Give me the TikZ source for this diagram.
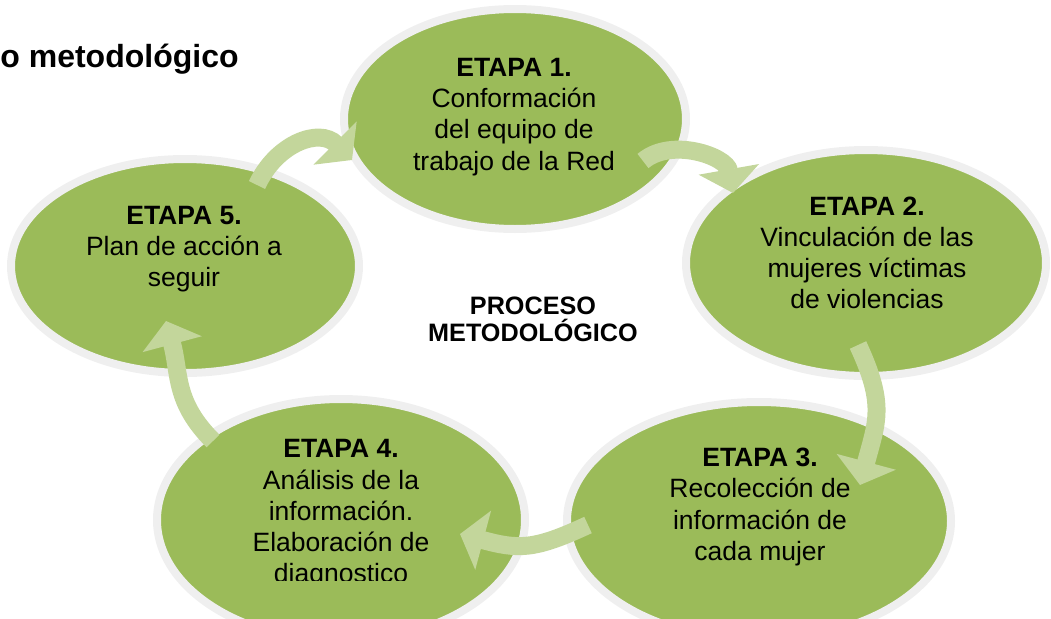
\documentclass[tikz,border=0pt]{standalone}
\usepackage{fontspec}
\setmainfont{Liberation Sans}
\usepackage{tikz}
\usetikzlibrary{arrows.meta,shapes.geometric}
\definecolor{etapa}{HTML}{9BBB59}
\definecolor{aro}{HTML}{EFEFEF}
\definecolor{flecha}{HTML}{C3D69B}
\tikzset{stage/.style={ellipse,draw=aro,line width=4pt,fill=etapa,inner sep=0pt},
  stagetxt/.style={align=center,inner sep=0pt,font=\fontsize{13.25}{15.6}\selectfont},
  flow/.style={draw=flecha,line width=9pt,-{Triangle[length=12pt,width=30pt]}}}

\begin{document}
\begin{tikzpicture}[x=0.5pt,y=0.5pt]
\useasboundingbox (0,0) rectangle (1051,618);
\clip (0,0) rectangle (1051,618);
\node[anchor=base west,inner sep=0pt,font=\fontsize{16}{19}\selectfont\bfseries] (titulo) at (0,551) {o metodológico};
% the five stages
\node[stage,minimum width=171pt,minimum height=110pt] (e1) at (515,499) {};
\node[stage,minimum width=180pt,minimum height=113pt] (e2) at (866,355) {};
\node[stage,minimum width=192pt,minimum height=119pt] (e3) at (759,97) {};
\node[stage,minimum width=184pt,minimum height=121pt] (e4) at (341,98) {};
\node[stage,minimum width=174pt,minimum height=107pt] (e5) at (185,352) {};
% curved arrows
\coordinate (a12s) at (643,457); \coordinate (a12e) at (733,425);
\coordinate (a23s) at (858,273); \coordinate (a23e) at (860,133);
\coordinate (a34s) at (588,93);  \coordinate (a34e) at (460,84);
\coordinate (a45s) at (213,177); \coordinate (a45e) at (166,297);
\coordinate (a51s) at (257,433); \coordinate (a51e) at (352,458);
\draw[flow] (a12s) to[out=40,in=100] (a12e);
\draw[flow] (a23s) to[out=-65,in=75,looseness=1.2] (a23e);
\draw[flow] (a34s) to[out=205,in=-15,looseness=1.2] (a34e);
\draw[flow] (a45s) to[out=135,in=-75,looseness=1.1] (a45e);
\draw[flow] (a51s) to[out=65,in=135,looseness=1.2] (a51e);
% texts
\node[stagetxt] (t1) at (514,501) {\textbf{ETAPA 1.}\\Conformación\\del equipo de\\trabajo de la Red};
\node[stagetxt] (t2) at (867,365) {\textbf{ETAPA 2.}\\Vinculación de las\\mujeres víctimas\\de violencias};
\node[stagetxt] (t3) at (760,111) {\textbf{ETAPA 3.}\\Recolección de\\información de\\cada mujer};
\begin{scope}
\clip (0,38) rectangle (1051,618);
\node[stagetxt] (t4) at (341,104) {\textbf{ETAPA 4.}\\Análisis de la\\información.\\Elaboración de\\diagnostico};
\end{scope}
\node[stagetxt] (t5) at (184,369) {\textbf{ETAPA 5.}\\Plan de acción a\\seguir};
\node[stagetxt,font=\fontsize{12.6}{13.5}\selectfont\bfseries] (centro) at (533,299) {PROCESO\\METODOLÓGICO};
\end{tikzpicture}
\end{document}
